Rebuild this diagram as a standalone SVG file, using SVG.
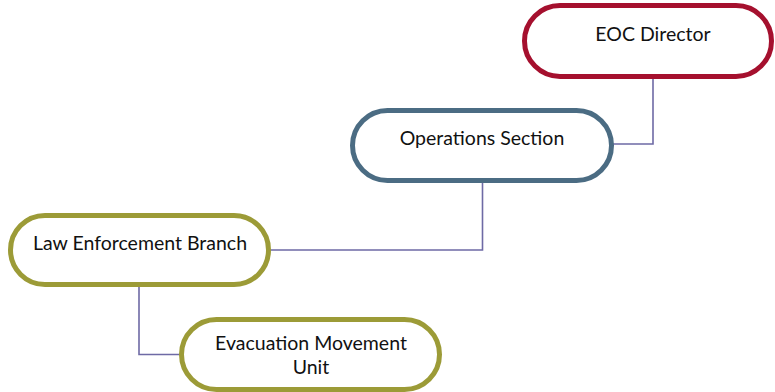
<svg xmlns="http://www.w3.org/2000/svg" width="775" height="392" viewBox="0 0 775 392">
<style>
.node{fill:#fff;stroke-width:5}
.red{stroke:#A5102E}
.blue{stroke:#4B6C83}
.olive{stroke:#9C9B37}
.lbl{font-family:Lato,"Liberation Sans",sans-serif;font-size:19.5px;fill:#111;text-anchor:middle}
.conn{fill:none;stroke:#6E6AA5;stroke-width:1.6}
</style>
<rect width="775" height="392" fill="#fff"/>
<g id="connectors">
<polyline class="conn" points="653,78 653,144 613,144"/>
<polyline class="conn" points="482.5,182 482.5,250 270,250"/>
<polyline class="conn" points="139,286 139,354.5 180,354.5"/>
</g>
<g id="eoc-director">
<rect class="node red" x="524.5" y="5.5" width="247" height="71" rx="35.5"/>
<text class="lbl" x="653" y="41">EOC Director</text>
</g>
<g id="operations-section">
<rect class="node blue" x="352.5" y="110.5" width="259" height="70" rx="35"/>
<text class="lbl" x="482" y="145">Operations Section</text>
</g>
<g id="law-enforcement-branch">
<rect class="node olive" x="10.5" y="215.5" width="258" height="69" rx="34.5"/>
<text class="lbl" x="140" y="250">Law Enforcement Branch</text>
</g>
<g id="evacuation-movement-unit">
<rect class="node olive" x="181.5" y="319.5" width="258" height="70" rx="35"/>
<text class="lbl" x="311" y="350">Evacuation Movement</text>
<text class="lbl" x="311" y="374">Unit</text>
</g>
</svg>
